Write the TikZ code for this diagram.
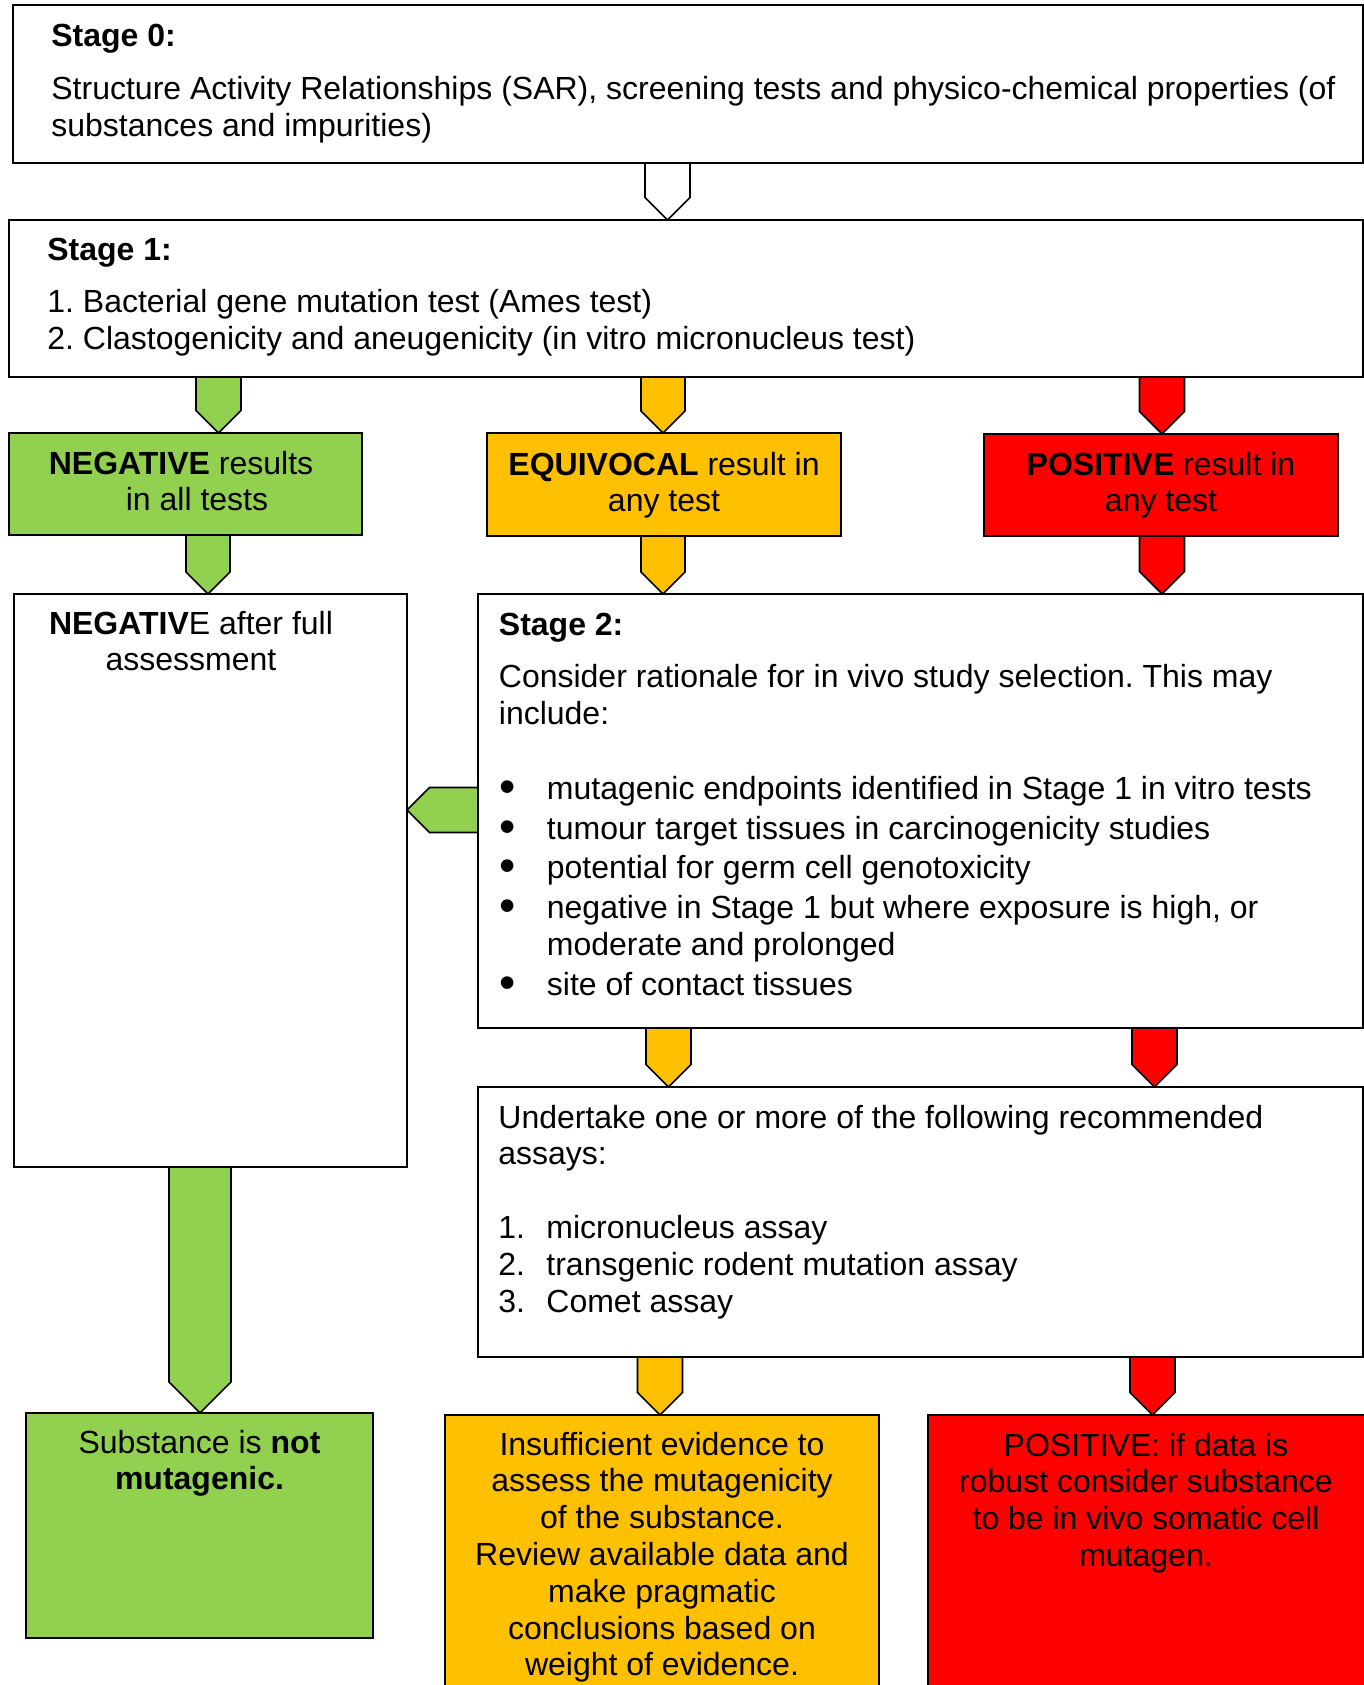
\documentclass[tikz,border=0pt]{standalone}
\usepackage{fontspec}
\setmainfont{Liberation Sans}
\usetikzlibrary{calc}

\definecolor{negcol}{HTML}{92D050}
\definecolor{equcol}{HTML}{FFC000}
\definecolor{poscol}{HTML}{FF0000}

\def\itemgap{24pt}
\tikzset{
   stagebox/.style={draw=black, line width=0.8pt, fill=white, anchor=north west, inner sep=0pt, outer sep=0pt},
   stagetext/.style={inner sep=0pt, font=\fontsize{16}{18.4}\selectfont\frenchspacing},
   blockarrow/.style={draw=black, line width=0.8pt, line join=miter}
}
\newcommand{\bulletline}{\makebox[\itemgap][l]{\hspace*{0.5pt}\smash{\raisebox{-1.6pt}{\scalebox{1.45}{\textbullet}}}}}
\newcommand{\numline}[1]{\makebox[\itemgap][l]{#1}}

\begin{document}
\begin{tikzpicture}[x=0.5pt, y=-0.5pt]
\useasboundingbox (0,0) rectangle (1364,1685);
\clip (0,0) rectangle (1364,1685);

% boxes
\node[stagebox, minimum width=675pt, minimum height=79pt] (stage0) at (13,5) {};
\node[stagebox, minimum width=677pt, minimum height=78.5pt] (stage1) at (9,220) {};
\node[stagebox, fill=negcol, minimum width=176.5pt, minimum height=51pt] (negres) at (9,433) {};
\node[stagebox, fill=equcol, minimum width=177pt, minimum height=51.5pt] (equres) at (487,433) {};
\node[stagebox, fill=poscol, minimum width=177pt, minimum height=51pt] (posres) at (984,434) {};
\node[stagebox, minimum width=196.5pt, minimum height=286.5pt] (negfull) at (14,594) {};
\node[stagebox, minimum width=442.5pt, minimum height=217pt] (stage2) at (478,594) {};
\node[stagebox, minimum width=442.5pt, minimum height=135pt] (assays) at (478,1087) {};
\node[stagebox, fill=negcol, minimum width=173.5pt, minimum height=112.5pt] (notmut) at (26,1413) {};
\node[stagebox, fill=equcol, minimum width=217pt, minimum height=150pt] (insuff) at (445,1415) {};
\node[stagebox, fill=poscol, minimum width=220pt, minimum height=150pt] (posfinal) at (928,1415) {};

% texts
\node[stagetext, anchor=base west] (stage0text) at (51,47) {\parbox[t]{660pt}{\raggedright
  \textbf{Stage 0:}\\[8pt]
  Structure Activity Relationships (SAR), screening tests and physico-chemical properties (of\\
  substances and impurities)}};
\node[stagetext, anchor=base west] (stage1text) at (47,261) {\parbox[t]{640pt}{\raggedright
  \textbf{Stage 1:}\\[7.5pt]
  1. Bacterial gene mutation test (Ames test)\\
  2. Clastogenicity and aneugenicity (in vitro micronucleus test)}};
\node[stagetext, anchor=base] (negrestext) at (189,474) {\parbox[t]{170pt}{\centering
  \textbf{NEGATIVE} results\hspace*{8pt}\mbox{}\\ \hspace*{8pt}in all tests}};
\node[stagetext, anchor=base] (equrestext) at (664,475) {\parbox[t]{170pt}{\centering
  \textbf{EQUIVOCAL} result in\\ any test}};
\node[stagetext, anchor=base] (posrestext) at (1161,475) {\parbox[t]{170pt}{\centering
  \textbf{POSITIVE} result in\\ any test}};
\node[stagetext, anchor=base] (negfulltext) at (191,634) {\parbox[t]{190pt}{\centering
  \textbf{NEGATIV}E after full\\ assessment}};
\node[stagetext, anchor=base west] (stage2text) at (498.5,635) {\parbox[t]{430pt}{\raggedright
  \fontsize{16}{18.75}\selectfont
  \textbf{Stage 2:}\\[7.25pt]
  Consider rationale for in vivo study selection. This may\\
  include:\\[18.75pt]
  \bulletline mutagenic endpoints identified in Stage 1 in vitro tests\\[1pt]
  \bulletline tumour target tissues in carcinogenicity studies\\[1pt]
  \bulletline potential for germ cell genotoxicity\\[1pt]
  \bulletline negative in Stage 1 but where exposure is high, or\\
  \hspace*{\itemgap}moderate and prolonged\\[1pt]
  \bulletline site of contact tissues}};
\node[stagetext, anchor=base west] (assaystext) at (498,1128) {\parbox[t]{430pt}{\raggedright
  Undertake one or more of the following recommended\\
  assays:\\[18.4pt]
  \numline{1.}micronucleus assay\\
  \numline{2.}transgenic rodent mutation assay\\
  \numline{3.}Comet assay}};
\node[stagetext, anchor=base] (notmuttext) at (199.5,1453) {\parbox[t]{170pt}{\centering
  Substance is \textbf{not}\\ \textbf{mutagenic.}}};
\node[stagetext, anchor=base] (insufftext) at (662,1455) {\parbox[t]{212pt}{\centering
  Insufficient evidence to\\ assess the mutagenicity\\ of the substance.\\
  Review available data and\\ make pragmatic\\ conclusions based on\\ weight of evidence.}};
\node[stagetext, anchor=base] (posfinaltext) at (1146,1456) {\parbox[t]{215pt}{\centering
  POSITIVE: if data is\\ robust consider substance\\ to be in vivo somatic cell\\ mutagen.}};

% block arrows down
\foreach \col/\xx/\ww/\from/\to in {white/667.5/22.5/stage0/stage1,
    negcol/218.5/22.5/stage1/negres, equcol/663/22/stage1/equres, poscol/1162/22.5/stage1/posres,
    negcol/208/22/negres/negfull, equcol/663/22/equres/stage2, poscol/1162/22.5/posres/stage2,
    equcol/668.5/22.5/stage2/assays, poscol/1154.5/22.5/stage2/assays,
    negcol/200/31/negfull/notmut, equcol/660/22.5/assays/insuff, poscol/1152.5/22.5/assays/posfinal} {
  \draw[blockarrow, fill=\col]
    ($(\from.south -| \xx,0)+(-\ww,0)$) -- ($(\from.south -| \xx,0)+(\ww,0)$)
    -- ($(\to.north -| \xx,0)+(\ww,-\ww)$) -- (\to.north -| \xx,0)
    -- ($(\to.north -| \xx,0)+(-\ww,-\ww)$) -- cycle;
}

% block arrow left
\draw[blockarrow, fill=negcol]
  ($(stage2.west |- 0,810)+(0,-22.5)$) -- ($(stage2.west |- 0,810)+(0,22.5)$)
  -- ($(negfull.east |- 0,810)+(22.5,22.5)$) -- (negfull.east |- 0,810)
  -- ($(negfull.east |- 0,810)+(22.5,-22.5)$) -- cycle;
\end{tikzpicture}
\end{document}
